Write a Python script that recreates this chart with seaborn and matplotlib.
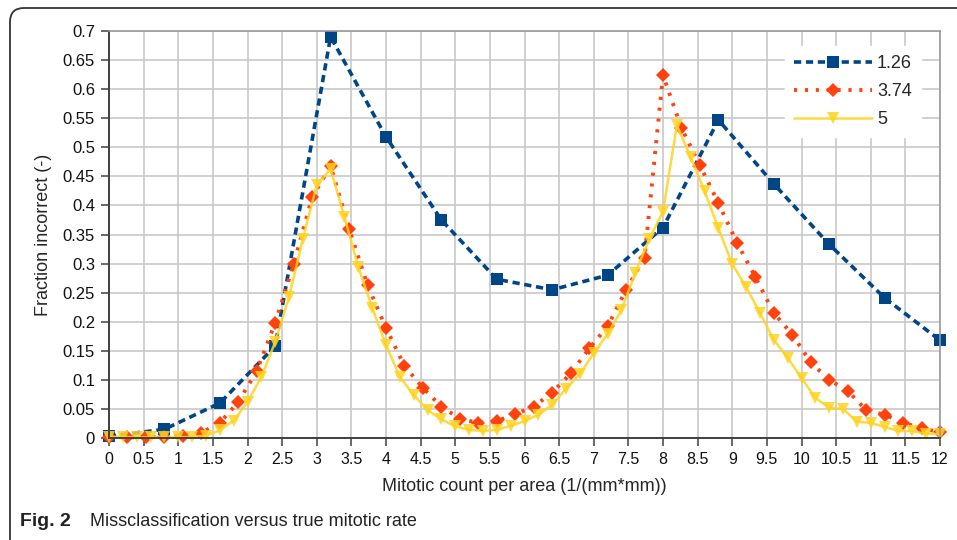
import matplotlib
matplotlib.use("Agg")
import matplotlib.pyplot as plt
from matplotlib.patches import FancyBboxPatch
from matplotlib.lines import Line2D
import numpy as np
import pandas as pd
import seaborn as sns

# --- data ---
x_126 = [0.0, 0.8, 1.6, 2.4, 3.2, 4.0, 4.8, 5.6, 6.4, 7.2, 8.0, 8.8, 9.6, 10.4, 11.2, 12.0]
y_126 = [0.003, 0.015, 0.060, 0.158, 0.690, 0.518, 0.375, 0.273, 0.255, 0.280,
         0.362, 0.547, 0.437, 0.333, 0.241, 0.168]

x_374 = [0.0, 0.267, 0.533, 0.8, 1.067, 1.333, 1.6, 1.867, 2.133, 2.4, 2.667, 2.933,
         3.2, 3.467, 3.733, 4.0, 4.267, 4.533, 4.8, 5.067, 5.333, 5.6, 5.867, 6.133,
         6.4, 6.667, 6.933, 7.2, 7.467, 7.733, 8.0, 8.267, 8.533, 8.8, 9.067, 9.333,
         9.6, 9.867, 10.133, 10.4, 10.667, 10.933, 11.2, 11.467, 11.733, 12.0]
y_374 = [0.002, 0.001, 0.001, 0.002, 0.004, 0.009, 0.026, 0.062, 0.115, 0.198, 0.299, 0.414,
         0.468, 0.360, 0.263, 0.189, 0.124, 0.086, 0.054, 0.033, 0.026, 0.029, 0.041, 0.054,
         0.078, 0.111, 0.154, 0.192, 0.255, 0.310, 0.624, 0.533, 0.469, 0.404, 0.336, 0.277,
         0.215, 0.178, 0.130, 0.100, 0.081, 0.048, 0.040, 0.026, 0.017, 0.010]

x_5 = [0.0, 0.2, 0.4, 0.6, 0.8, 1.0, 1.2, 1.4, 1.6, 1.8, 2.0, 2.2, 2.4, 2.6, 2.8, 3.0,
       3.2, 3.4, 3.6, 3.8, 4.0, 4.2, 4.4, 4.6, 4.8, 5.0, 5.2, 5.4, 5.6, 5.8, 6.0, 6.2,
       6.4, 6.6, 6.8, 7.0, 7.2, 7.4, 7.6, 7.8, 8.0, 8.2, 8.4, 8.6, 8.8, 9.0, 9.2, 9.4,
       9.6, 9.8, 10.0, 10.2, 10.4, 10.6, 10.8, 11.0, 11.2, 11.4, 11.6, 11.8, 12.0]
y_5 = [0.002, 0.002, 0.001, 0.001, 0.001, 0.001, 0.002, 0.004, 0.013, 0.030, 0.062, 0.105,
       0.165, 0.243, 0.343, 0.435, 0.463, 0.380, 0.294, 0.224, 0.160, 0.105, 0.074, 0.048,
       0.032, 0.020, 0.014, 0.012, 0.014, 0.021, 0.029, 0.040, 0.057, 0.085, 0.110, 0.146,
       0.179, 0.220, 0.284, 0.342, 0.389, 0.538, 0.483, 0.425, 0.361, 0.299, 0.260, 0.215,
       0.169, 0.138, 0.103, 0.069, 0.052, 0.050, 0.028, 0.026, 0.019, 0.012, 0.012, 0.007,
       0.007]

labels = ["1.26", "3.74", "5"]
colors = ["#004586", "#ff420e", "#ffd320"]

df = pd.concat([
    pd.DataFrame({'x': x_126, 'y': y_126, 'series': labels[0]}),
    pd.DataFrame({'x': x_374, 'y': y_374, 'series': labels[1]}),
    pd.DataFrame({'x': x_5, 'y': y_5, 'series': labels[2]}),
])

sns.set_style("white")
plt.rcParams['font.family'] = ['Liberation Sans', 'DejaVu Sans']

fig = plt.figure(figsize=(9.57, 5.4), dpi=100)
ax = fig.add_axes([109/957, 1 - 438/540, (940 - 109)/957, (438 - 31)/540])

styles = {
    labels[0]: dict(marker='s', ms=9, ls=(0, (2.0, 1.3)), lw=2.6, alpha=1.0),
    labels[1]: dict(marker='D', ms=7.5, ls=(0, (0.8, 2.0)), lw=2.8, alpha=1.0),
    labels[2]: dict(marker='v', ms=9, ls='-', lw=1.8, alpha=0.85),
}

handles = []
for lab, col in zip(labels, colors):
    st = styles[lab]
    sub = df[df['series'] == lab]
    sns.lineplot(data=sub, x='x', y='y', ax=ax, color=col, marker=st['marker'],
                 markersize=st['ms'], markeredgewidth=0, linestyle=st['ls'],
                 linewidth=st['lw'], alpha=st['alpha'], legend=False, clip_on=False)
    handles.append(Line2D([], [], color=col, marker=st['marker'], markersize=st['ms'],
                          markeredgewidth=0, linestyle=st['ls'], linewidth=st['lw'],
                          alpha=st['alpha']))

ax.set_xlim(0, 12)
ax.set_ylim(0, 0.7)
ax.set_xticks(np.arange(0, 12.01, 0.5))
ax.set_xticklabels([f"{v:g}" for v in np.arange(0, 12.01, 0.5)])
ax.set_yticks(np.arange(0, 0.701, 0.05))
ax.set_yticklabels([f"{v:g}" for v in np.round(np.arange(0, 0.701, 0.05), 2)])
ax.grid(True, color='#c8c8c8', linewidth=1.2)
ax.set_axisbelow(True)
for side in ['top', 'right']:
    ax.spines[side].set_color('#9a9a9a')
    ax.spines[side].set_linewidth(1.2)
for side in ['left', 'bottom']:
    ax.spines[side].set_color('#404040')
    ax.spines[side].set_linewidth(1.4)
ax.tick_params(axis='both', which='both', direction='out', length=6, width=1.1,
               color='#404040', labelsize=12, pad=4, bottom=True, left=True,
               labelcolor='#111111')
ax.tick_params(axis='x', labelsize=11.5)
ax.set_xlabel("Mitotic count per area (1/(mm*mm))", fontsize=13, labelpad=8)
ax.set_ylabel("Fraction incorrect (-)", fontsize=13, labelpad=8)

leg = ax.legend(handles, labels, loc='upper right', bbox_to_anchor=(0.988, 0.985),
                frameon=True, facecolor='white', edgecolor='white', framealpha=1,
                fancybox=False, handlelength=4.3, fontsize=13, labelspacing=0.6,
                handletextpad=0.3, borderpad=0.5)

# rounded frame around the figure
frame = FancyBboxPatch((10, -30), 1000, 562, boxstyle="round,pad=0,rounding_size=14",
                       transform=None, fill=False, edgecolor='#333333', linewidth=1.3)
fig.add_artist(frame)

cap_font = ['Liberation Sans Narrow', 'Liberation Sans', 'DejaVu Sans']
fig.text(20/957, 1 - 521/540, "Fig. 2", fontsize=14, fontweight='bold',
         family=cap_font, va='center', ha='left', color='#222222')
fig.text(90/957, 1 - 521/540, "Missclassification versus true mitotic rate", fontsize=13,
         family=cap_font, va='center', ha='left', color='#222222')

fig.savefig("out.png", dpi=100)
